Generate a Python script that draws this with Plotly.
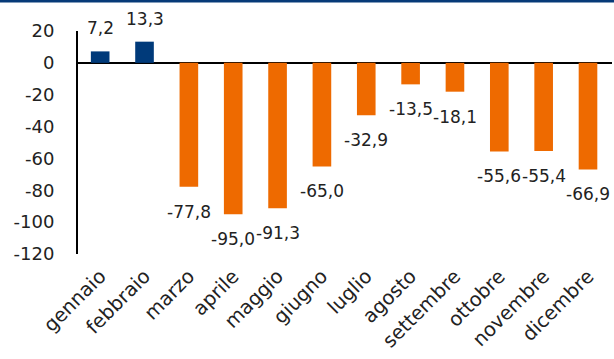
import plotly.graph_objects as go

months = ["gennaio", "febbraio", "marzo", "aprile", "maggio", "giugno",
          "luglio", "agosto", "settembre", "ottobre", "novembre", "dicembre"]
values = [7.2, 13.3, -77.8, -95.0, -91.3, -65.0, -32.9, -13.5, -18.1, -55.6, -55.4, -66.9]
y_tickvals = [20, 0, -20, -40, -60, -80, -100, -120]
y_ticktext = ["20", "0", "-20", "-40", "-60", "-80", "-100", "-120"]

BLUE = "#003A7A"
ORANGE = "#EE6A00"
TEXT = "#222222"
FONT = "DejaVu Sans"

colors = [BLUE if v >= 0 else ORANGE for v in values]
labels = [f"{v:.1f}".replace(".", ",") for v in values]

fig = go.Figure()
fig.add_trace(go.Bar(x=months, y=values, marker=dict(color=colors, line=dict(width=0)),
                     hoverinfo="skip"))

for m, v, t in zip(months, values, labels):
    fig.add_annotation(x=m, y=v, text=t, showarrow=False,
                       yshift=23 if v >= 0 else -25,
                       font=dict(family=FONT, size=17, color=TEXT))

fig.add_shape(type="line", xref="paper", yref="paper", x0=-0.2, x1=1.1, y0=1.135, y1=1.135,
              line=dict(color="#063A78", width=3))

fig.update_layout(
    width=614, height=359,
    margin=dict(l=78, r=2, t=31, b=105),
    paper_bgcolor="white", plot_bgcolor="white",
    bargap=0.58,
    showlegend=False,
    font=dict(family=FONT, size=17, color=TEXT),
    xaxis=dict(type="category", showgrid=False, showline=False, ticks="",
               tickangle=-45, ticklabelstandoff=6,
               tickfont=dict(family=FONT, size=19.5, color=TEXT)),
    yaxis=dict(range=[-120, 20], tickvals=y_tickvals, ticktext=y_ticktext,
               showgrid=False, showline=True, linecolor="black", linewidth=2,
               zeroline=True, zerolinecolor="black", zerolinewidth=2,
               ticks="", ticklabelstandoff=18,
               tickfont=dict(family=FONT, size=18, color=TEXT)),
)

fig.write_html("out.html")
